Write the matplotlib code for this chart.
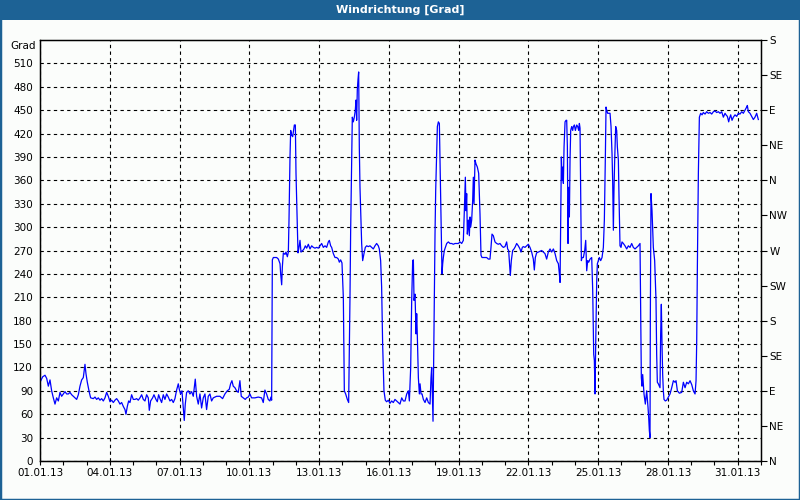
import matplotlib
matplotlib.use('Agg')
import matplotlib.pyplot as plt
from matplotlib.patches import Rectangle
import numpy as np

# === data (days since 01.01.13, wind direction in Grad) ===
days = [
    0.0, 0.115, 0.215, 0.287, 0.358, 0.43, 0.501, 0.573, 0.645, 0.716, 0.788, 0.86, 0.931,
    1.003, 1.074, 1.146, 1.218, 1.289, 1.361, 1.433, 1.504, 1.576, 1.648, 1.719, 1.791, 1.862,
    1.934, 1.977, 2.034, 2.12, 2.178, 2.292, 2.364, 2.436, 2.507, 2.579, 2.65, 2.722, 2.794,
    2.865, 2.937, 3.009, 3.08, 3.152, 3.223, 3.295, 3.367, 3.438, 3.51, 3.582, 3.653, 3.696,
    3.754, 3.811, 3.868, 3.94, 4.011, 4.083, 4.155, 4.226, 4.298, 4.37, 4.441, 4.513, 4.585,
    4.656, 4.699, 4.756, 4.842, 4.9, 4.986, 5.043, 5.1, 5.158, 5.229, 5.301, 5.372, 5.444,
    5.516, 5.587, 5.659, 5.731, 5.802, 5.874, 5.946, 5.989, 6.046, 6.103, 6.16, 6.203, 6.246,
    6.304, 6.375, 6.447, 6.519, 6.59, 6.676, 6.734, 6.805, 6.877, 6.948, 7.02, 7.092, 7.163,
    7.235, 7.307, 7.378, 7.45, 7.593, 7.736, 7.851, 7.951, 8.052, 8.138, 8.195, 8.252, 8.309,
    8.381, 8.453, 8.524, 8.596, 8.653, 8.739, 8.825, 8.883, 8.954, 9.026, 9.097, 9.241, 9.384,
    9.527, 9.599, 9.67, 9.742, 9.814, 9.885, 9.928, 9.96, 9.975, 9.99,
    10.033, 10.105, 10.176, 10.248, 10.32, 10.348, 10.391, 10.42, 10.463, 10.534, 10.577,
    10.635, 10.678, 10.706, 10.749, 10.778, 10.821, 10.864, 10.893, 10.936, 10.979, 11.007,
    11.065, 11.093, 11.136, 11.179, 11.222, 11.294, 11.351, 11.408, 11.466, 11.537, 11.609,
    11.681, 11.752, 11.824, 11.896, 11.967, 12.039, 12.11, 12.182, 12.254, 12.325, 12.397,
    12.44, 12.497, 12.54, 12.612, 12.684, 12.755, 12.827, 12.87, 12.927, 12.984, 13.042,
    13.085, 13.142, 13.214, 13.271, 13.3, 13.328, 13.357, 13.4, 13.428, 13.471, 13.514,
    13.557, 13.586, 13.615, 13.643, 13.672, 13.701, 13.729, 13.758, 13.787, 13.83, 13.873,
    13.93, 13.987, 14.045, 14.116, 14.188, 14.259, 14.331, 14.403, 14.474, 14.546, 14.589,
    14.646, 14.689, 14.732, 14.789, 14.847, 14.904, 14.976, 15.047, 15.119, 15.191, 15.262,
    15.334, 15.406, 15.477, 15.552, 15.623, 15.695, 15.767, 15.838, 15.881, 15.938, 15.981,
    16.024, 16.053, 16.082, 16.125, 16.168, 16.196, 16.225, 16.268, 16.311, 16.34, 16.383,
    16.426, 16.483, 16.555, 16.626, 16.698, 16.769, 16.812, 16.841, 16.87, 16.898, 16.927,
    16.956, 16.984, 17.013, 17.056, 17.085, 17.128, 17.171, 17.199, 17.228, 17.257, 17.285,
    17.314, 17.342, 17.385, 17.428, 17.486, 17.557, 17.629, 17.701, 17.772, 17.844, 17.916,
    17.987, 18.059, 18.13, 18.202, 18.245, 18.288, 18.317, 18.345, 18.374, 18.417, 18.46,
    18.489, 18.517, 18.56, 18.603, 18.632, 18.661, 18.703, 18.747, 18.804, 18.861, 18.918,
    18.961, 19.004, 19.062, 19.133, 19.205, 19.277, 19.348, 19.391, 19.434, 19.491, 19.563,
    19.635, 19.706, 19.778, 19.85, 19.921, 19.993, 20.064, 20.107, 20.15, 20.179, 20.222,
    20.265, 20.322, 20.38, 20.437, 20.494, 20.566, 20.638, 20.681, 20.738, 20.781, 20.853,
    20.924, 20.996, 21.067, 21.139, 21.211, 21.254, 21.297, 21.354, 21.426, 21.497, 21.569,
    21.64, 21.712, 21.784, 21.855, 21.93, 22.001, 22.073, 22.145, 22.216, 22.288, 22.331,
    22.36, 22.388, 22.417, 22.446, 22.474, 22.503, 22.532, 22.575, 22.617, 22.646, 22.675,
    22.703, 22.732, 22.761, 22.789, 22.818, 22.861, 22.904, 22.933, 22.976, 23.019, 23.076,
    23.119, 23.162, 23.191, 23.219, 23.248, 23.277, 23.305, 23.362, 23.42, 23.463, 23.506,
    23.549, 23.592, 23.649, 23.721, 23.764, 23.807, 23.835, 23.864, 23.893, 23.936, 23.964,
    24.007, 24.05, 24.107, 24.165, 24.222, 24.265, 24.308, 24.337, 24.365, 24.408, 24.451,
    24.509, 24.552, 24.595, 24.623, 24.652, 24.681, 24.709, 24.752, 24.795, 24.824, 24.867,
    24.895, 24.938, 24.981, 25.024, 25.082, 25.153, 25.225, 25.297, 25.368, 25.44, 25.511,
    25.583, 25.655, 25.726, 25.798, 25.827, 25.855, 25.884, 25.913, 25.97, 26.027, 26.085,
    26.142, 26.171, 26.199, 26.228, 26.242, 26.271, 26.314, 26.371, 26.428, 26.486, 26.514,
    26.543, 26.586, 26.658, 26.686, 26.715, 26.744, 26.772, 26.801, 26.83, 26.887, 26.944,
    27.018, 27.089, 27.161, 27.233, 27.304, 27.347, 27.405, 27.49, 27.591, 27.662, 27.734,
    27.806, 27.877, 27.949, 28.021, 28.092, 28.164, 28.207, 28.236, 28.264, 28.307, 28.35,
    28.407, 28.465, 28.522, 28.594, 28.665, 28.737, 28.809, 28.88, 28.952, 29.023, 29.095,
    29.167, 29.238, 29.31, 29.382, 29.453, 29.496, 29.554, 29.611, 29.64, 29.697, 29.754,
    29.811, 29.883, 29.955, 30.026, 30.098, 30.17, 30.241, 30.313, 30.384, 30.413, 30.456,
    30.527, 30.599, 30.671, 30.742, 30.814, 30.885,
]
grad = [
    101, 108, 110, 106, 96, 104, 90, 81, 73, 81, 77, 88, 83,
    86, 89, 86, 86, 88, 85, 83, 81, 79, 85, 96, 104, 107,
    124, 112, 101, 88, 81, 80, 82, 79, 81, 78, 80, 77, 81,
    88, 83, 76, 78, 75, 78, 80, 77, 73, 75, 70, 66, 60,
    70, 77, 75, 85, 79, 79, 80, 78, 81, 85, 79, 77, 85,
    81, 65, 77, 81, 85, 79, 76, 85, 80, 75, 85, 79, 86,
    82, 77, 79, 75, 80, 91, 99, 92, 86, 90, 68, 52, 73,
    88, 90, 86, 89, 83, 105, 83, 73, 86, 68, 81, 86, 66,
    83, 86, 77, 81, 83, 83, 80, 86, 90, 92, 99, 103, 96,
    94, 90, 88, 103, 83, 81, 79, 81, 82, 86, 81, 81, 82,
    81, 75, 91, 86, 79, 77, 82, 78, 170, 258,
    261, 261, 261, 259, 253, 240, 226, 249, 267, 265, 268,
    262, 268, 309, 390, 424, 418, 416, 422, 431, 431, 369,
    300, 267, 274, 283, 268, 270, 272, 276, 273, 278, 272,
    276, 274, 273, 274, 273, 276, 279, 274, 276, 274, 281,
    283, 276, 274, 266, 261, 261, 259, 255, 258, 254, 210,
    90, 86, 79, 75, 141, 210, 296, 386, 441, 435, 441,
    450, 463, 437, 476, 489, 499, 403, 351, 321, 279, 257,
    266, 274, 276, 275, 276, 274, 272, 276, 279, 276, 272,
    257, 223, 150, 90, 78, 76, 78, 74, 77, 75, 79,
    77, 75, 73, 81, 77, 77, 86, 90, 77, 120, 206,
    257, 258, 206, 214, 163, 189, 159, 107, 86, 99, 86,
    86, 79, 75, 81, 75, 73, 107, 120, 86, 51, 129,
    219, 291, 347, 394, 429, 435, 433, 386, 334, 287, 240,
    253, 261, 270, 274, 279, 281, 279, 279, 278, 279, 279,
    279, 281, 279, 283, 321, 364, 321, 343, 291, 309, 289,
    313, 300, 309, 334, 364, 330, 386, 381, 377, 369, 317,
    264, 261, 261, 261, 261, 259, 259, 274, 291, 289, 281,
    279, 278, 279, 276, 274, 275, 281, 272, 270, 257, 238,
    257, 270, 272, 275, 279, 276, 272, 268, 274, 275, 274,
    276, 278, 274, 268, 259, 245, 261, 267, 268, 269, 270,
    268, 266, 259, 268, 272, 268, 272, 266, 257, 253, 240,
    229, 309, 390, 360, 377, 356, 403, 435, 437, 437, 403,
    279, 351, 313, 386, 424, 429, 424, 429, 431, 424, 431,
    429, 424, 433, 427, 343, 257, 261, 261, 270, 283, 244,
    257, 255, 259, 261, 219, 137, 129, 86, 150, 231, 253,
    257, 261, 257, 261, 274, 309, 390, 454, 450, 446, 446,
    446, 429, 394, 358, 296, 351, 386, 429, 424, 403, 386,
    339, 276, 274, 281, 279, 276, 272, 276, 274, 279, 274,
    272, 274, 276, 279, 189, 107, 96, 111, 86, 73, 90,
    69, 56, 39, 30, 184, 343, 321, 274, 257, 206, 137,
    101, 99, 94, 163, 201, 150, 111, 90, 79, 77, 78,
    82, 86, 94, 103, 101, 103, 90, 87, 88, 101, 94,
    101, 99, 103, 98, 90, 86, 103, 154, 249, 369, 441,
    446, 444, 447, 445, 448, 446, 447, 445, 448, 449, 447,
    448, 446, 448, 441, 446, 444, 442, 435, 439, 444, 437,
    441, 444, 442, 446, 445, 448, 446, 450, 454, 456, 448,
    446, 442, 438, 441, 446, 438,
]

x_tick_pos = [0, 3, 6, 9, 12, 15, 18, 21, 24, 27, 30]
x_tick_labels = ['01.01.13', '04.01.13', '07.01.13', '10.01.13', '13.01.13', '16.01.13',
                 '19.01.13', '22.01.13', '25.01.13', '28.01.13', '31.01.13']
compass_labels = ['N', 'NE', 'E', 'SE', 'S', 'SW', 'W', 'NW', 'N', 'NE', 'E', 'SE', 'S']

# === style ===
bg = '#fbfdfb'
frame_blue = '#1d6295'
fs = 7.5

fig = plt.figure(figsize=(8, 5), dpi=100, facecolor=bg)
# title bar + border
fig.patches.append(Rectangle((0, 1 - 20 / 500), 1, 20 / 500, transform=fig.transFigure,
                             facecolor=frame_blue, edgecolor='none', zorder=0))
fig.patches.append(Rectangle((0, 0), 1, 1, transform=fig.transFigure, fill=False,
                             edgecolor=frame_blue, linewidth=2.5, zorder=5))
fig.text(0.5, 1 - 10 / 500, 'Windrichtung [Grad]', color='white', fontsize=8,
         fontweight='bold', ha='center', va='center')

ax = fig.add_axes([40 / 800, 39 / 500, 721 / 800, 421 / 500])
ax.set_facecolor(bg)
ax.plot(days, grad, color='#0000ff', linewidth=0.9, zorder=3)

ax.set_xlim(0, 31)
ax.set_ylim(0, 540)
ax.set_xticks(x_tick_pos)
ax.set_xticklabels(x_tick_labels)
ax.set_xticks(np.arange(0, 32, 1), minor=True)
ax.set_yticks(np.arange(0, 511, 30))
ax.tick_params(axis='x', which='both', direction='out', length=3, width=0.8,
               labelsize=fs, pad=2)
ax.tick_params(axis='y', length=0, labelsize=fs, pad=5)

ax.grid(True, color='black', linestyle=(0, (3, 3)), linewidth=0.8)
ax.set_axisbelow(True)
for s in ax.spines.values():
    s.set_linewidth(1)
    s.set_color('black')

ax2 = ax.twinx()
ax2.set_ylim(0, 540)
ax2.set_yticks(np.arange(0, 541, 45))
ax2.set_yticklabels(compass_labels)
ax2.tick_params(axis='y', direction='out', length=4, width=0.8, labelsize=fs, pad=2)

fig.text(36 / 800, 1 - 46 / 500, 'Grad', fontsize=fs, ha='right', va='center')

fig.savefig('out.png', dpi=100, facecolor=bg)
